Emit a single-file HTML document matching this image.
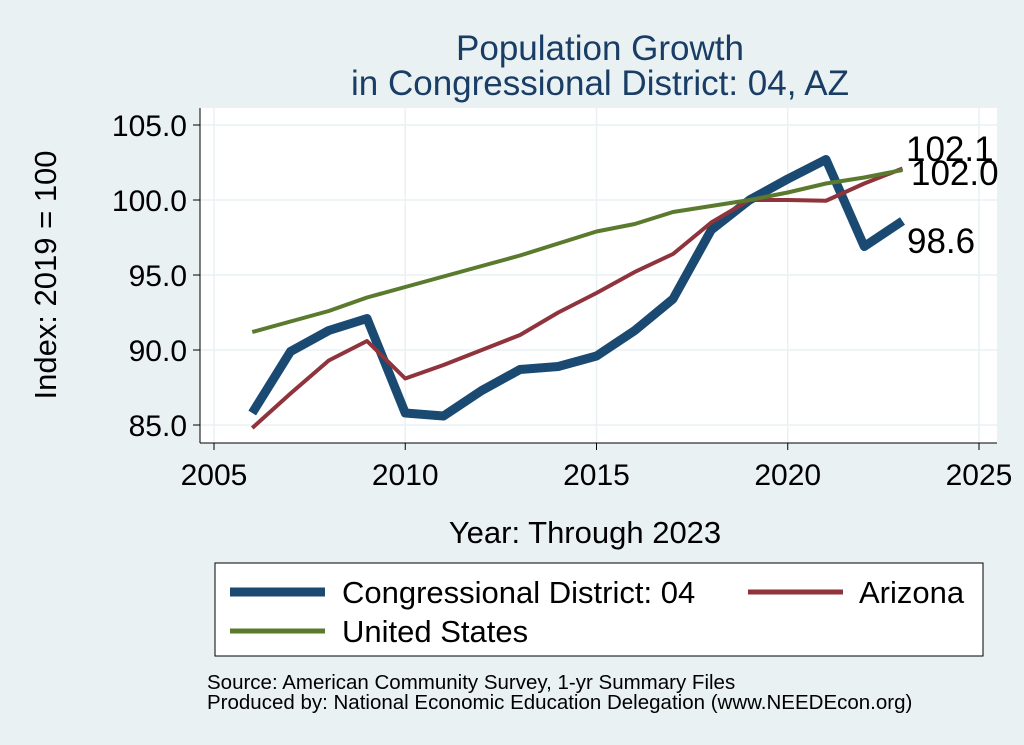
<!DOCTYPE html>
<html><head><meta charset="utf-8">
<style>
html,body{margin:0;padding:0;background:#eaf1f3;}
svg{display:block;font-family:"Liberation Sans",sans-serif;}
</style></head>
<body>
<svg id="s" width="1024" height="745" viewBox="0 0 1024 745">
<rect width="1024" height="745" fill="#eaf1f3"/>
<rect x="200" y="108" width="797" height="335" fill="#ffffff"/>
<g id="grid" stroke="#eaf1f3" stroke-width="1.5"></g>
<line x1="200" y1="108" x2="200" y2="443" stroke="#000" stroke-width="1"/>
<line x1="200" y1="443" x2="997" y2="443" stroke="#000" stroke-width="1"/>
<g id="ticks" stroke="#000" stroke-width="1"></g>
<g id="lab" font-size="30" fill="#000"></g>
<g id="lines" fill="none" stroke-linejoin="round"></g>
<text x="600" y="60" font-size="35" fill="#1a3d66" text-anchor="middle">Population Growth</text>
<text x="600" y="95" font-size="35" fill="#1a3d66" text-anchor="middle">in Congressional District: 04, AZ</text>
<text x="585" y="543" font-size="31" text-anchor="middle">Year: Through 2023</text>
<text x="56" y="275" font-size="31" text-anchor="middle" transform="rotate(-90 56 275)">Index: 2019 = 100</text>
<text x="906" y="161" font-size="35">102.1</text>
<text x="911" y="185" font-size="35">102.0</text>
<text x="907" y="253" font-size="35">98.6</text>
<rect x="215" y="563" width="768" height="93" fill="#fff" stroke="#000" stroke-width="1"/>
<line x1="230" y1="592" x2="325" y2="592" stroke="#1a4a72" stroke-width="9"/>
<text x="342" y="603" font-size="31">Congressional District: 04</text>
<line x1="748" y1="592" x2="843" y2="592" stroke="#8f343c" stroke-width="5"/>
<text x="859" y="603" font-size="31">Arizona</text>
<line x1="230" y1="631" x2="325" y2="631" stroke="#5a7a2e" stroke-width="5"/>
<text x="342" y="642" font-size="31">United States</text>
<text x="207" y="689" font-size="20.5">Source: American Community Survey, 1-yr Summary Files</text>
<text x="207" y="709" font-size="20.5">Produced by: National Economic Education Delegation (www.NEEDEcon.org)</text>
</svg>
<script>
var NS="http://www.w3.org/2000/svg";
function el(p,t,a,txt){var e=document.createElementNS(NS,t);for(var k in a)e.setAttribute(k,a[k]);if(txt)e.textContent=txt;document.getElementById(p).appendChild(e);}
function X(y){return 214+(y-2005)*38.25;}
function Y(v){return 125+(105-v)*15;}
[85,90,95,100,105].forEach(function(v){
 el("grid","line",{x1:200,x2:997,y1:Y(v),y2:Y(v)});
 el("ticks","line",{x1:193,x2:200,y1:Y(v),y2:Y(v)});
 el("lab","text",{x:187,y:Y(v)+11,"text-anchor":"end"},v.toFixed(1));
});
[2005,2010,2015,2020,2025].forEach(function(y){
 el("grid","line",{x1:X(y),x2:X(y),y1:108,y2:443});
 el("ticks","line",{x1:X(y),x2:X(y),y1:443,y2:450});
 el("lab","text",{x:X(y),y:485,"text-anchor":"middle"},String(y));
});
var cd=[85.8,89.9,91.3,92.1,85.8,85.6,87.3,88.7,88.9,89.6,91.3,93.4,98.0,100,101.4,102.7,96.9,98.6];
var az=[84.8,87.1,89.3,90.6,88.1,89.0,90.0,91.0,92.5,93.8,95.2,96.4,98.5,100,100,99.95,101.1,102.1];
var us=[91.2,91.9,92.6,93.5,94.2,94.9,95.6,96.3,97.1,97.9,98.4,99.2,99.6,100,100.5,101.1,101.5,102.0];
function pts(a){return a.map(function(v,i){return X(2006+i)+","+Y(v);}).join(" ");}
el("lines","polyline",{points:pts(cd),stroke:"#1a4a72","stroke-width":9});
el("lines","polyline",{points:pts(az),stroke:"#8f343c","stroke-width":4});
el("lines","polyline",{points:pts(us),stroke:"#5a7a2e","stroke-width":4});
</script>
</body></html>
